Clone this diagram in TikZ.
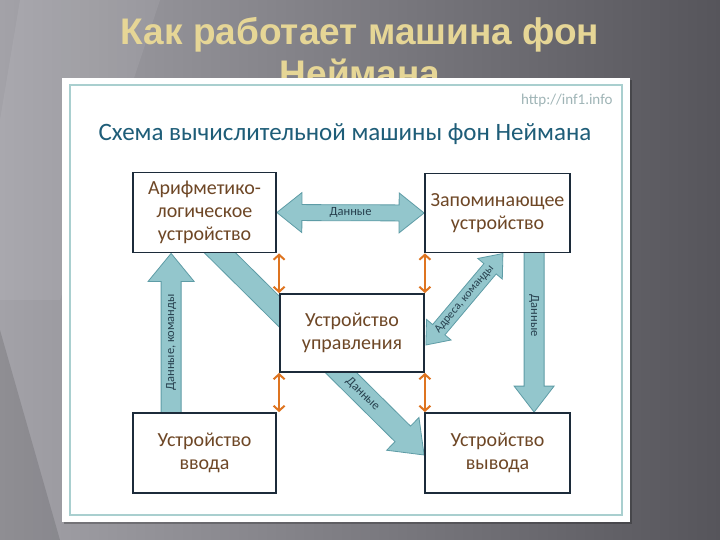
\documentclass[tikz,border=0pt]{standalone}
\usepackage{fontspec}
\setmainfont{Carlito}
\newfontfamily\titlefont{Liberation Sans}
\usetikzlibrary{arrows.meta,calc}
\definecolor{bgL}{HTML}{A3A2A8}
\definecolor{bgR}{HTML}{56555B}
\definecolor{titleC}{HTML}{E6D696}
\definecolor{subC}{HTML}{1E5D78}
\definecolor{boxC}{HTML}{1C2B3A}
\definecolor{txtC}{HTML}{6E4726}
\definecolor{arrF}{HTML}{93C6CC}
\definecolor{arrD}{HTML}{5E9CA6}
\definecolor{orC}{HTML}{DE7420}
\definecolor{lblC}{HTML}{27404E}
\definecolor{frameC}{HTML}{A9CFCF}
\definecolor{urlC}{HTML}{9FB4B6}
\tikzset{
  devbox/.style={draw=boxC, line width=1.8pt, fill=white, text=txtC, align=center,
    font=\fontsize{20}{23}\selectfont, inner sep=0pt},
  fatarr/.style={fill=arrF, draw=arrD, line width=0.8pt, line join=miter},
  orng/.style={draw=orC, line width=2.2pt,
    {Straight Barb[length=5pt,width=11pt,line width=2pt]}-{Straight Barb[length=5pt,width=11pt,line width=2pt]}},
  lbl/.style={text=lblC, font=\fontsize{12.5}{14}\selectfont, inner sep=0pt}
}
\newcommand\FatArrow[6]{%
  \path let \p1=(#1), \p2=(#2), \n1={atan2(\y2-\y1,\x2-\x1)}, \n2={veclen(\x2-\x1,\y2-\y1)} in
    \pgfextra{\xdef\FAang{\n1}\xdef\FAlen{\n2}\xdef\FAx{\x1}\xdef\FAy{\y1}};
  \begin{scope}[shift={(\FAx,\FAy)}, rotate=\FAang]
    \ifnum#6=1
      \draw[fatarr] (0pt,0pt) -- (#5,#4) -- (#5,#3) -- ({\FAlen-#5},#3) -- ({\FAlen-#5},#4)
        -- (\FAlen,0pt) -- ({\FAlen-#5},-#4) -- ({\FAlen-#5},-#3) -- (#5,-#3) -- (#5,-#4) -- cycle;
    \else
      \draw[fatarr] (0pt,-#3) -- ({\FAlen-#5},-#3) -- ({\FAlen-#5},-#4) -- (\FAlen,0pt)
        -- ({\FAlen-#5},#4) -- ({\FAlen-#5},#3) -- (0pt,#3) -- cycle;
    \fi
  \end{scope}}
\begin{document}
\begin{tikzpicture}[x=1pt,y=-1pt]
\useasboundingbox (0,0) rectangle (720,540);
% background
\shade[left color=bgL, right color=bgR] (0,0) rectangle (720,540);
\shade[top color=black, bottom color=black, middle color=black, opacity=0] (0,0) rectangle (1,1);
\fill[black, opacity=0.12] (0,330) -- (60,540) -- (0,540) -- cycle;
\fill[white, opacity=0.07] (20,0) -- (160,0) -- (60,300) -- (0,300) -- (0,120) -- cycle;
% title
\node[font=\titlefont\bfseries\fontsize{37}{42}\selectfont, text=titleC, align=center] (title) at (360,52) {Как работает машина фон\\Неймана};
% panel
\fill[black, opacity=0.25] (64,80) rectangle (632,524);
\fill[white] (62,78) rectangle (630,522);
\draw[frameC, line width=1.5pt] (70,85) rectangle (622,515);
\node[text=urlC, font=\fontsize{15}{17}\selectfont, anchor=east] (url) at (616,101) {http://inf1.info};
\node[text=subC, font=\fontsize{25}{28}\selectfont, anchor=west] (sub) at (95,134) {Схема вычислительной машины фон Неймана};
% node placement (invisible first for coordinates)
\path node[devbox, minimum width=143pt, minimum height=80pt, draw=none, fill=none] (alu) at (204.5,212.5) {}
      node[devbox, minimum width=145pt, minimum height=79pt, draw=none, fill=none] (mem) at (497.5,213) {}
      node[devbox, minimum width=144pt, minimum height=78pt, draw=none, fill=none] (ctrl) at (352,333) {}
      node[devbox, minimum width=143pt, minimum height=80pt, draw=none, fill=none] (inp) at (204.5,453) {}
      node[devbox, minimum width=145pt, minimum height=80pt, draw=none, fill=none] (out) at (497.5,453) {};
\coordinate (upA) at ($(inp.north west)+(39,6)$);
\coordinate (upB) at ($(alu.south west)+(39,0)$);
\coordinate (dnA) at ($(mem.south west)+(110,-2)$);
\coordinate (dnB) at ($(out.north west)+(110,0)$);
\coordinate (dgA) at ($(alu.center)+(0.5,25.5)$);
\coordinate (dgB) at ($(out.west)+(0,2)$);
\coordinate (mcA) at ($(ctrl.east)+(1,12)$);
\coordinate (mcB) at ($(mem.south)+(5.5,0)$);
% fat arrows
\FatArrow{alu.east}{mem.west}{8pt}{20pt}{25pt}{1}
\FatArrow{upA}{upB}{10pt}{23pt}{28pt}{0}
\FatArrow{dnA}{dnB}{10pt}{20pt}{26pt}{0}
\FatArrow{dgA}{dgB}{11pt}{23pt}{30pt}{0}
\FatArrow{mcA}{mcB}{8pt}{16pt}{20pt}{1}
% boxes
\node[devbox, minimum width=143pt, minimum height=80pt] at (alu) {Арифметико-\\логическое\\устройство};
\node[devbox, minimum width=145pt, minimum height=79pt] at (mem) {Запоминающее\\устройство};
\node[devbox, minimum width=144pt, minimum height=78pt] at (ctrl) {Устройство\\управления};
\node[devbox, minimum width=143pt, minimum height=80pt] at (inp) {Устройство\\ввода};
\node[devbox, minimum width=145pt, minimum height=80pt] at (out) {Устройство\\вывода};
% labels
\path (alu.east) -- node[lbl] {Данные} (mem.west);
\path (upA) -- node[lbl, pos=0.46, rotate=90] {Данные, команды} (upB);
\path (dnA) -- node[lbl, pos=0.4, rotate=-90] {Данные} (dnB);
\path (dgA) -- node[lbl, pos=0.72, sloped] {Данные} (dgB);
\path (mcA) -- node[lbl, pos=0.5, sloped, font=\fontsize{11.5}{13}\selectfont] {Адреса, команды} (mcB);
% orange arrows
\draw[orng] (ctrl.north west) -- (ctrl.north west |- alu.south);
\draw[orng] (ctrl.north east) -- (ctrl.north east |- mem.south);
\draw[orng] (ctrl.south west) -- (ctrl.south west |- inp.north);
\draw[orng] (ctrl.south east) -- (ctrl.south east |- out.north);
\end{tikzpicture}
\end{document}
